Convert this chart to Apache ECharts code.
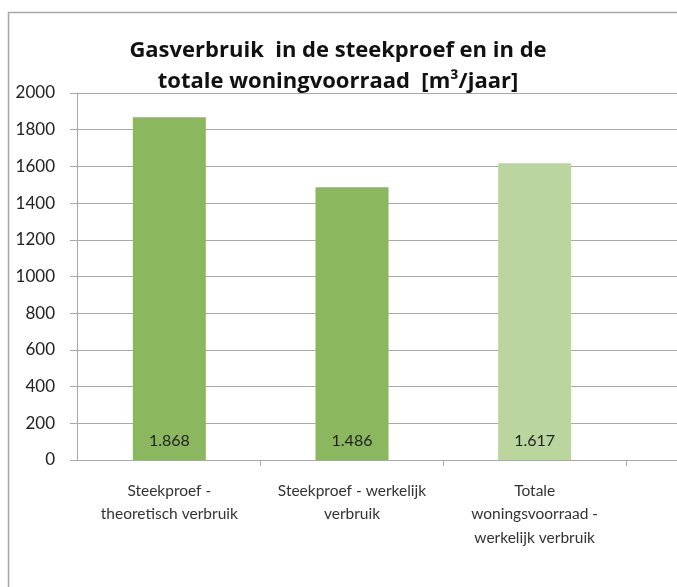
<!DOCTYPE html>
<html>
<head>
<meta charset="utf-8">
<script src="https://cdn.jsdelivr.net/npm/echarts@6/dist/echarts.min.js"></script>
<style>
  html, body { margin: 0; padding: 0; background: #fff; }
  #chart { width: 677px; height: 587px; }
</style>
</head>
<body>
<div id="chart"></div>
<script>
const categories = [
  "Steekproef -\ntheoretisch verbruik",
  "Steekproef - werkelijk\nverbruik",
  "Totale\nwoningsvoorraad -\nwerkelijk verbruik",
];
const values = [1868, 1486, 1617];
const labels = ["1.868", "1.486", "1.617"];
const barColors = ["#8bb75e", "#8bb75e", "#bad69e"];

const chart = echarts.init(document.getElementById("chart"));
const font = "Lato, 'Open Sans', sans-serif";
const gridColor = "#a9a9a9";

const option = {
  backgroundColor: "#fff",
  animation: false,
  title: {
    text: "Gasverbruik  in de steekproef en in de\ntotale woningvoorraad  [m³/jaar]",
    left: 333,
    textAlign: "center",
    top: 30,
    textStyle: {
      fontFamily: "'Open Sans', Lato, sans-serif",
      fontSize: 22,
      fontWeight: "bold",
      color: "#111",
      lineHeight: 31,
    },
  },
  graphic: [
    {
      type: "rect",
      shape: { x: 8.5, y: 12.5, width: 700, height: 600 },
      style: { fill: "none", stroke: "#a6a6a6", lineWidth: 1.5 },
      silent: true,
    },
  ],
  grid: [
    { left: 77, right: 0, top: 93, bottom: 127 },
    { left: 78, width: 548, top: 93, bottom: 127 },
  ],
  xAxis: [
    { gridIndex: 0, type: "value", show: false, min: 0, max: 1 },
    {
      gridIndex: 1,
      type: "category",
      data: categories,
      axisLine: { show: false },
      axisTick: {
        show: true,
        length: 6,
        interval: (i) => i > 0,
        lineStyle: { color: gridColor },
      },
      axisLabel: {
        margin: 19,
        fontFamily: font,
        fontSize: 15.5,
        lineHeight: 23.5,
        color: "#333",
        interval: 0,
      },
    },
  ],
  yAxis: [
    {
      gridIndex: 0,
      type: "value",
      min: 0,
      max: 2000,
      interval: 200,
      axisLine: { show: true, lineStyle: { color: gridColor } },
      axisTick: { show: true, length: 7, lineStyle: { color: gridColor } },
      splitLine: { show: true, lineStyle: { color: gridColor, width: 1.2 } },
      axisLabel: {
        margin: 22,
        fontFamily: font,
        fontSize: 17,
        color: "#222",
        formatter: (v) => String(v),
      },
    },
    { gridIndex: 1, type: "value", min: 0, max: 2000, show: false },
  ],
  series: [
    {
      type: "bar",
      xAxisIndex: 1,
      yAxisIndex: 1,
      barWidth: 73,
      data: values.map((v, i) => ({
        value: v,
        itemStyle: { color: barColors[i] },
      })),
      label: {
        show: true,
        position: "insideBottom",
        distance: 11,
        fontFamily: font,
        fontSize: 16,
        color: "#222",
        formatter: (p) => labels[p.dataIndex],
      },
    },
  ],
};

chart.setOption(option);
</script>
</body>
</html>
